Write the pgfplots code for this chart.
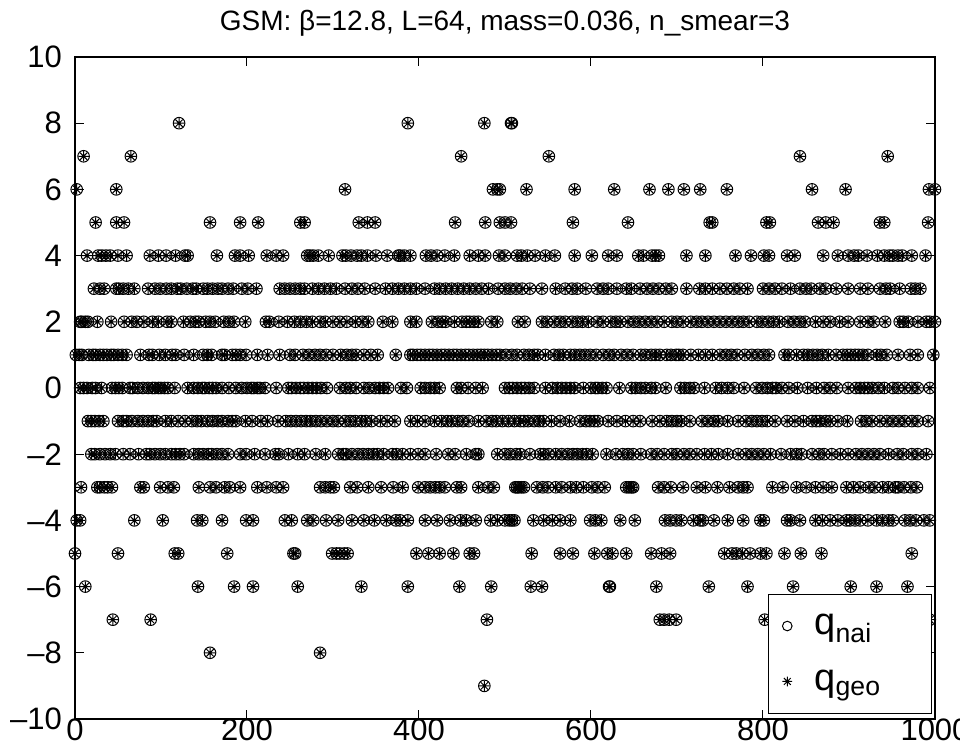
\documentclass[border=0pt]{standalone}
\usepackage{pgfplots}
\pgfplotsset{compat=1.18}
\usepackage{pgfplotstable}
\usepackage{fontspec}
\setmainfont{Liberation Sans}
\pgfdeclareplotmark{ast8}{%
 \pgfpathmoveto{\pgfqpoint{-\pgfplotmarksize}{0pt}}\pgfpathlineto{\pgfqpoint{\pgfplotmarksize}{0pt}}%
 \pgfpathmoveto{\pgfqpoint{0pt}{-\pgfplotmarksize}}\pgfpathlineto{\pgfqpoint{0pt}{\pgfplotmarksize}}%
 \pgfpathmoveto{\pgfqpoint{-0.707\pgfplotmarksize}{-0.707\pgfplotmarksize}}\pgfpathlineto{\pgfqpoint{0.707\pgfplotmarksize}{0.707\pgfplotmarksize}}%
 \pgfpathmoveto{\pgfqpoint{-0.707\pgfplotmarksize}{0.707\pgfplotmarksize}}\pgfpathlineto{\pgfqpoint{0.707\pgfplotmarksize}{-0.707\pgfplotmarksize}}%
 \pgfusepathqstroke}
\pgfplotstableread[row sep=\\]{
x y\\
121 8\\ 387 8\\ 476 8\\ 507 8\\ 508 8\\
10 7\\ 65 7\\ 449 7\\ 551 7\\ 843 7\\ 945 7\\
2 6\\ 48 6\\ 314 6\\ 486 6\\ 491 6\\ 494 6\\ 525 6\\ 581 6\\ 627 6\\ 668 6\\ 690 6\\ 708 6\\ 727 6\\ 758 6\\ 857 6\\ 896 6\\ 993 6\\ 1000 6\\
24 5\\ 48 5\\ 57 5\\ 157 5\\ 192 5\\ 213 5\\ 262 5\\ 267 5\\ 330 5\\ 340 5\\ 349 5\\ 442 5\\ 477 5\\ 494 5\\ 500 5\\ 507 5\\ 579 5\\ 643 5\\ 738 5\\ 741 5\\ 804 5\\ 808 5\\ 864 5\\ 873 5\\ 882 5\\ 936 5\\ 941 5\\ 992 5\\
14 4\\ 27 4\\ 31 4\\ 36 4\\ 41 4\\ 50 4\\ 60 4\\ 87 4\\ 97 4\\ 106 4\\ 117 4\\ 128 4\\ 131 4\\ 165 4\\ 186 4\\ 192 4\\ 202 4\\ 223 4\\ 234 4\\ 242 4\\ 270 4\\ 273 4\\ 277 4\\ 283 4\\ 295 4\\ 311 4\\ 315 4\\ 321 4\\ 328 4\\ 333 4\\ 340 4\\ 350 4\\ 363 4\\ 376 4\\ 378 4\\ 383 4\\ 390 4\\ 408 4\\ 414 4\\ 421 4\\ 430 4\\ 441 4\\ 459 4\\ 469 4\\ 477 4\\ 493 4\\ 500 4\\ 514 4\\ 519 4\\ 526 4\\ 535 4\\ 547 4\\ 558 4\\ 581 4\\ 601 4\\ 620 4\\ 630 4\\ 655 4\\ 661 4\\ 671 4\\ 675 4\\ 679 4\\ 711 4\\ 733 4\\ 768 4\\ 786 4\\ 801 4\\ 807 4\\ 828 4\\ 837 4\\ 870 4\\ 887 4\\ 899 4\\ 906 4\\ 911 4\\ 921 4\\ 933 4\\ 941 4\\ 947 4\\ 951 4\\ 957 4\\ 962 4\\ 973 4\\ 989 4\\
22 3\\ 29 3\\ 34 3\\ 48 3\\ 51 3\\ 56 3\\ 62 3\\ 69 3\\ 85 3\\ 93 3\\ 99 3\\ 106 3\\ 112 3\\ 119 3\\ 123 3\\ 130 3\\ 137 3\\ 141 3\\ 149 3\\ 154 3\\ 160 3\\ 166 3\\ 171 3\\ 178 3\\ 184 3\\ 194 3\\ 201 3\\ 211 3\\ 238 3\\ 244 3\\ 250 3\\ 256 3\\ 262 3\\ 267 3\\ 276 3\\ 283 3\\ 290 3\\ 297 3\\ 304 3\\ 314 3\\ 322 3\\ 329 3\\ 337 3\\ 349 3\\ 361 3\\ 369 3\\ 376 3\\ 383 3\\ 390 3\\ 397 3\\ 407 3\\ 418 3\\ 424 3\\ 431 3\\ 438 3\\ 445 3\\ 452 3\\ 459 3\\ 466 3\\ 473 3\\ 481 3\\ 492 3\\ 500 3\\ 506 3\\ 513 3\\ 520 3\\ 529 3\\ 543 3\\ 559 3\\ 570 3\\ 578 3\\ 584 3\\ 594 3\\ 607 3\\ 614 3\\ 620 3\\ 630 3\\ 641 3\\ 647 3\\ 657 3\\ 665 3\\ 672 3\\ 679 3\\ 687 3\\ 694 3\\ 711 3\\ 726 3\\ 733 3\\ 741 3\\ 750 3\\ 758 3\\ 766 3\\ 773 3\\ 782 3\\ 800 3\\ 807 3\\ 814 3\\ 822 3\\ 832 3\\ 843 3\\ 850 3\\ 856 3\\ 866 3\\ 873 3\\ 885 3\\ 899 3\\ 913 3\\ 922 3\\ 936 3\\ 943 3\\ 948 3\\ 959 3\\ 972 3\\ 977 3\\ 983 3\\
6 2\\ 8 2\\ 12 2\\ 15 2\\ 26 2\\ 42 2\\ 57 2\\ 66 2\\ 72 2\\ 80 2\\ 90 2\\ 97 2\\ 107 2\\ 112 2\\ 126 2\\ 134 2\\ 140 2\\ 144 2\\ 152 2\\ 157 2\\ 163 2\\ 173 2\\ 179 2\\ 185 2\\ 198 2\\ 222 2\\ 226 2\\ 237 2\\ 247 2\\ 255 2\\ 262 2\\ 269 2\\ 276 2\\ 285 2\\ 291 2\\ 300 2\\ 308 2\\ 316 2\\ 326 2\\ 334 2\\ 341 2\\ 358 2\\ 369 2\\ 390 2\\ 397 2\\ 415 2\\ 422 2\\ 427 2\\ 431 2\\ 441 2\\ 450 2\\ 455 2\\ 459 2\\ 464 2\\ 469 2\\ 484 2\\ 491 2\\ 515 2\\ 523 2\\ 543 2\\ 549 2\\ 557 2\\ 564 2\\ 570 2\\ 578 2\\ 584 2\\ 590 2\\ 597 2\\ 607 2\\ 614 2\\ 623 2\\ 629 2\\ 634 2\\ 643 2\\ 650 2\\ 656 2\\ 663 2\\ 670 2\\ 677 2\\ 685 2\\ 694 2\\ 700 2\\ 707 2\\ 716 2\\ 723 2\\ 729 2\\ 736 2\\ 743 2\\ 750 2\\ 757 2\\ 764 2\\ 771 2\\ 777 2\\ 784 2\\ 793 2\\ 799 2\\ 806 2\\ 812 2\\ 819 2\\ 829 2\\ 836 2\\ 843 2\\ 849 2\\ 861 2\\ 870 2\\ 878 2\\ 889 2\\ 899 2\\ 913 2\\ 922 2\\ 929 2\\ 942 2\\ 959 2\\ 963 2\\ 969 2\\ 980 2\\ 990 2\\ 994 2\\ 1000 2\\
1 1\\ 5 1\\ 8 1\\ 16 1\\ 21 1\\ 24 1\\ 29 1\\ 33 1\\ 37 1\\ 42 1\\ 45 1\\ 50 1\\ 55 1\\ 60 1\\ 76 1\\ 86 1\\ 90 1\\ 98 1\\ 105 1\\ 113 1\\ 117 1\\ 127 1\\ 138 1\\ 149 1\\ 154 1\\ 159 1\\ 171 1\\ 174 1\\ 183 1\\ 187 1\\ 192 1\\ 199 1\\ 212 1\\ 224 1\\ 238 1\\ 250 1\\ 256 1\\ 265 1\\ 272 1\\ 279 1\\ 285 1\\ 292 1\\ 300 1\\ 309 1\\ 316 1\\ 322 1\\ 327 1\\ 336 1\\ 344 1\\ 352 1\\ 373 1\\ 390 1\\ 393 1\\ 398 1\\ 402 1\\ 407 1\\ 412 1\\ 416 1\\ 421 1\\ 426 1\\ 430 1\\ 435 1\\ 440 1\\ 444 1\\ 449 1\\ 454 1\\ 458 1\\ 463 1\\ 468 1\\ 472 1\\ 476 1\\ 480 1\\ 485 1\\ 490 1\\ 494 1\\ 501 1\\ 508 1\\ 514 1\\ 522 1\\ 528 1\\ 534 1\\ 538 1\\ 547 1\\ 557 1\\ 563 1\\ 568 1\\ 576 1\\ 581 1\\ 587 1\\ 593 1\\ 599 1\\ 606 1\\ 614 1\\ 621 1\\ 627 1\\ 635 1\\ 642 1\\ 649 1\\ 658 1\\ 663 1\\ 670 1\\ 675 1\\ 680 1\\ 688 1\\ 693 1\\ 699 1\\ 702 1\\ 707 1\\ 716 1\\ 725 1\\ 733 1\\ 741 1\\ 750 1\\ 757 1\\ 763 1\\ 770 1\\ 779 1\\ 787 1\\ 794 1\\ 801 1\\ 807 1\\ 825 1\\ 830 1\\ 839 1\\ 847 1\\ 852 1\\ 858 1\\ 863 1\\ 869 1\\ 876 1\\ 885 1\\ 893 1\\ 898 1\\ 902 1\\ 907 1\\ 911 1\\ 916 1\\ 922 1\\ 932 1\\ 937 1\\ 944 1\\ 957 1\\ 971 1\\ 980 1\\ 998 1\\
6 0\\ 10 0\\ 14 0\\ 20 0\\ 24 0\\ 31 0\\ 43 0\\ 47 0\\ 51 0\\ 55 0\\ 64 0\\ 67 0\\ 73 0\\ 79 0\\ 85 0\\ 90 0\\ 93 0\\ 97 0\\ 100 0\\ 104 0\\ 108 0\\ 116 0\\ 131 0\\ 138 0\\ 143 0\\ 148 0\\ 151 0\\ 156 0\\ 160 0\\ 164 0\\ 171 0\\ 179 0\\ 187 0\\ 194 0\\ 200 0\\ 205 0\\ 208 0\\ 212 0\\ 215 0\\ 221 0\\ 234 0\\ 248 0\\ 252 0\\ 257 0\\ 262 0\\ 266 0\\ 271 0\\ 276 0\\ 281 0\\ 286 0\\ 293 0\\ 308 0\\ 315 0\\ 320 0\\ 327 0\\ 336 0\\ 342 0\\ 349 0\\ 354 0\\ 359 0\\ 364 0\\ 379 0\\ 386 0\\ 402 0\\ 407 0\\ 413 0\\ 418 0\\ 424 0\\ 444 0\\ 449 0\\ 457 0\\ 466 0\\ 474 0\\ 500 0\\ 505 0\\ 509 0\\ 514 0\\ 519 0\\ 523 0\\ 528 0\\ 534 0\\ 547 0\\ 555 0\\ 561 0\\ 566 0\\ 571 0\\ 576 0\\ 581 0\\ 591 0\\ 600 0\\ 605 0\\ 608 0\\ 613 0\\ 618 0\\ 633 0\\ 647 0\\ 652 0\\ 658 0\\ 663 0\\ 670 0\\ 675 0\\ 687 0\\ 704 0\\ 709 0\\ 715 0\\ 720 0\\ 732 0\\ 745 0\\ 752 0\\ 759 0\\ 766 0\\ 778 0\\ 792 0\\ 799 0\\ 805 0\\ 811 0\\ 815 0\\ 822 0\\ 830 0\\ 840 0\\ 852 0\\ 862 0\\ 871 0\\ 878 0\\ 886 0\\ 899 0\\ 908 0\\ 913 0\\ 918 0\\ 922 0\\ 927 0\\ 934 0\\ 941 0\\ 951 0\\ 957 0\\ 965 0\\ 973 0\\ 980 0\\ 994 0\\
15 -1\\ 19 -1\\ 23 -1\\ 28 -1\\ 33 -1\\ 50 -1\\ 56 -1\\ 60 -1\\ 66 -1\\ 73 -1\\ 79 -1\\ 85 -1\\ 91 -1\\ 95 -1\\ 105 -1\\ 112 -1\\ 120 -1\\ 128 -1\\ 136 -1\\ 142 -1\\ 147 -1\\ 154 -1\\ 160 -1\\ 166 -1\\ 171 -1\\ 178 -1\\ 183 -1\\ 187 -1\\ 198 -1\\ 206 -1\\ 216 -1\\ 224 -1\\ 236 -1\\ 245 -1\\ 251 -1\\ 257 -1\\ 263 -1\\ 269 -1\\ 274 -1\\ 280 -1\\ 286 -1\\ 293 -1\\ 300 -1\\ 306 -1\\ 314 -1\\ 320 -1\\ 326 -1\\ 333 -1\\ 338 -1\\ 345 -1\\ 355 -1\\ 363 -1\\ 372 -1\\ 390 -1\\ 398 -1\\ 407 -1\\ 418 -1\\ 426 -1\\ 433 -1\\ 438 -1\\ 445 -1\\ 451 -1\\ 458 -1\\ 469 -1\\ 478 -1\\ 485 -1\\ 490 -1\\ 497 -1\\ 504 -1\\ 511 -1\\ 518 -1\\ 522 -1\\ 527 -1\\ 534 -1\\ 540 -1\\ 545 -1\\ 554 -1\\ 564 -1\\ 575 -1\\ 587 -1\\ 594 -1\\ 599 -1\\ 604 -1\\ 608 -1\\ 620 -1\\ 630 -1\\ 640 -1\\ 649 -1\\ 657 -1\\ 671 -1\\ 680 -1\\ 688 -1\\ 694 -1\\ 700 -1\\ 705 -1\\ 715 -1\\ 729 -1\\ 736 -1\\ 743 -1\\ 748 -1\\ 759 -1\\ 771 -1\\ 780 -1\\ 787 -1\\ 793 -1\\ 799 -1\\ 805 -1\\ 814 -1\\ 828 -1\\ 837 -1\\ 847 -1\\ 857 -1\\ 862 -1\\ 866 -1\\ 873 -1\\ 878 -1\\ 887 -1\\ 898 -1\\ 914 -1\\ 920 -1\\ 927 -1\\ 936 -1\\ 944 -1\\ 951 -1\\ 958 -1\\ 965 -1\\ 973 -1\\ 980 -1\\ 992 -1\\
19 -2\\ 23 -2\\ 29 -2\\ 35 -2\\ 41 -2\\ 47 -2\\ 56 -2\\ 64 -2\\ 74 -2\\ 83 -2\\ 87 -2\\ 93 -2\\ 99 -2\\ 105 -2\\ 112 -2\\ 117 -2\\ 122 -2\\ 127 -2\\ 138 -2\\ 144 -2\\ 149 -2\\ 155 -2\\ 159 -2\\ 165 -2\\ 171 -2\\ 178 -2\\ 192 -2\\ 199 -2\\ 209 -2\\ 221 -2\\ 233 -2\\ 237 -2\\ 248 -2\\ 259 -2\\ 267 -2\\ 280 -2\\ 291 -2\\ 306 -2\\ 312 -2\\ 315 -2\\ 322 -2\\ 329 -2\\ 335 -2\\ 341 -2\\ 347 -2\\ 352 -2\\ 359 -2\\ 369 -2\\ 374 -2\\ 381 -2\\ 390 -2\\ 399 -2\\ 407 -2\\ 420 -2\\ 434 -2\\ 442 -2\\ 455 -2\\ 466 -2\\ 469 -2\\ 491 -2\\ 500 -2\\ 506 -2\\ 513 -2\\ 518 -2\\ 529 -2\\ 541 -2\\ 545 -2\\ 551 -2\\ 559 -2\\ 566 -2\\ 573 -2\\ 579 -2\\ 584 -2\\ 590 -2\\ 595 -2\\ 602 -2\\ 618 -2\\ 629 -2\\ 637 -2\\ 643 -2\\ 649 -2\\ 658 -2\\ 670 -2\\ 677 -2\\ 685 -2\\ 694 -2\\ 700 -2\\ 708 -2\\ 715 -2\\ 723 -2\\ 732 -2\\ 740 -2\\ 748 -2\\ 759 -2\\ 771 -2\\ 780 -2\\ 787 -2\\ 794 -2\\ 801 -2\\ 809 -2\\ 821 -2\\ 832 -2\\ 839 -2\\ 845 -2\\ 857 -2\\ 865 -2\\ 871 -2\\ 880 -2\\ 890 -2\\ 899 -2\\ 908 -2\\ 915 -2\\ 922 -2\\ 929 -2\\ 936 -2\\ 946 -2\\ 956 -2\\ 963 -2\\ 973 -2\\ 980 -2\\ 990 -2\\
7 -3\\ 26 -3\\ 29 -3\\ 34 -3\\ 38 -3\\ 43 -3\\ 76 -3\\ 80 -3\\ 99 -3\\ 108 -3\\ 115 -3\\ 144 -3\\ 157 -3\\ 164 -3\\ 174 -3\\ 180 -3\\ 192 -3\\ 212 -3\\ 223 -3\\ 234 -3\\ 242 -3\\ 285 -3\\ 291 -3\\ 297 -3\\ 301 -3\\ 320 -3\\ 328 -3\\ 341 -3\\ 356 -3\\ 370 -3\\ 381 -3\\ 399 -3\\ 407 -3\\ 413 -3\\ 419 -3\\ 424 -3\\ 430 -3\\ 444 -3\\ 449 -3\\ 469 -3\\ 480 -3\\ 487 -3\\ 512 -3\\ 514 -3\\ 516 -3\\ 519 -3\\ 522 -3\\ 537 -3\\ 544 -3\\ 550 -3\\ 559 -3\\ 566 -3\\ 576 -3\\ 583 -3\\ 591 -3\\ 601 -3\\ 608 -3\\ 616 -3\\ 641 -3\\ 644 -3\\ 647 -3\\ 649 -3\\ 678 -3\\ 685 -3\\ 693 -3\\ 707 -3\\ 723 -3\\ 733 -3\\ 747 -3\\ 761 -3\\ 771 -3\\ 777 -3\\ 782 -3\\ 811 -3\\ 823 -3\\ 839 -3\\ 850 -3\\ 861 -3\\ 870 -3\\ 880 -3\\ 897 -3\\ 905 -3\\ 913 -3\\ 923 -3\\ 930 -3\\ 939 -3\\ 946 -3\\ 954 -3\\ 957 -3\\ 964 -3\\ 972 -3\\ 979 -3\\
2 -4\\ 6 -4\\ 69 -4\\ 102 -4\\ 142 -4\\ 148 -4\\ 171 -4\\ 199 -4\\ 207 -4\\ 244 -4\\ 252 -4\\ 270 -4\\ 277 -4\\ 292 -4\\ 306 -4\\ 322 -4\\ 336 -4\\ 348 -4\\ 362 -4\\ 373 -4\\ 378 -4\\ 387 -4\\ 407 -4\\ 421 -4\\ 436 -4\\ 448 -4\\ 455 -4\\ 466 -4\\ 483 -4\\ 491 -4\\ 500 -4\\ 505 -4\\ 508 -4\\ 511 -4\\ 533 -4\\ 545 -4\\ 555 -4\\ 564 -4\\ 576 -4\\ 599 -4\\ 605 -4\\ 612 -4\\ 634 -4\\ 651 -4\\ 686 -4\\ 692 -4\\ 699 -4\\ 705 -4\\ 719 -4\\ 727 -4\\ 730 -4\\ 743 -4\\ 759 -4\\ 777 -4\\ 797 -4\\ 801 -4\\ 828 -4\\ 832 -4\\ 843 -4\\ 861 -4\\ 869 -4\\ 878 -4\\ 887 -4\\ 897 -4\\ 901 -4\\ 907 -4\\ 913 -4\\ 922 -4\\ 932 -4\\ 939 -4\\ 946 -4\\ 951 -4\\ 965 -4\\ 971 -4\\ 978 -4\\ 987 -4\\ 994 -4\\
0 -5\\ 50 -5\\ 116 -5\\ 120 -5\\ 177 -5\\ 254 -5\\ 256 -5\\ 299 -5\\ 304 -5\\ 308 -5\\ 313 -5\\ 317 -5\\ 397 -5\\ 411 -5\\ 424 -5\\ 440 -5\\ 459 -5\\ 464 -5\\ 531 -5\\ 564 -5\\ 579 -5\\ 604 -5\\ 619 -5\\ 625 -5\\ 641 -5\\ 670 -5\\ 682 -5\\ 692 -5\\ 755 -5\\ 764 -5\\ 769 -5\\ 776 -5\\ 785 -5\\ 797 -5\\ 804 -5\\ 825 -5\\ 844 -5\\ 868 -5\\ 973 -5\\
12 -6\\ 143 -6\\ 185 -6\\ 207 -6\\ 259 -6\\ 333 -6\\ 387 -6\\ 447 -6\\ 484 -6\\ 530 -6\\ 543 -6\\ 621 -6\\ 622 -6\\ 676 -6\\ 737 -6\\ 782 -6\\ 835 -6\\ 902 -6\\ 932 -6\\ 968 -6\\
44 -7\\ 88 -7\\ 479 -7\\ 680 -7\\ 685 -7\\ 691 -7\\ 699 -7\\ 802 -7\\ 994 -7\\
157 -8\\ 285 -8\\
476 -9\\
}\qdata
\begin{document}
\begin{tikzpicture}
\begin{axis}[
  scale only axis,
  width=430pt, height=331pt,
  xmin=0, xmax=1000, ymin=-10, ymax=10,
  xtick={0,200,400,600,800,1000},
  xticklabels={0,200,400,600,800,1000},
  ytick={-10,-8,-6,-4,-2,0,2,4,6,8,10},
  yticklabels={–10,–8,–6,–4,–2,0,2,4,6,8,10},
  tick align=inside,
  major tick length=4.5pt,
  tick style={black, line width=0.5pt},
  axis line style={line width=0.6pt},
  tick label style={font=\fontsize{15.5}{18}\selectfont},
  xticklabel style={yshift=3.5pt},
  yticklabel style={xshift=-3pt},
  /pgf/number format/assume math mode=true,
  title={GSM: β=12.8, L=64, mass=0.036, n\_smear=3},
  title style={font=\fontsize{14}{17}\selectfont, yshift=1pt},
  clip=false,
  legend style={at={(0.996,0.008)}, anchor=south east, draw=black,
    line width=0.5pt, fill=white, font=\fontsize{19}{22}\selectfont,
    row sep=12pt, inner ysep=8pt, inner xsep=3pt},
  legend image code/.code={\path (0cm,0cm) (0.62cm,0cm); \draw[mark size=2.4pt] plot coordinates {(0.22cm,0cm)};},
  legend cell align=left,
]
\addplot[only marks, mark=o, mark size=2.9pt, black, line width=0.5pt] table {\qdata};
\addlegendentry{q\textsubscript{nai}\rule{20pt}{0pt}}
\addplot[only marks, mark=ast8, mark size=2.6pt, black, line width=0.5pt] table {\qdata};
\addlegendentry{q\textsubscript{geo}\rule{20pt}{0pt}}
\coordinate (sw) at (rel axis cs:0,0);
\coordinate (ne) at (rel axis cs:1,1);
\end{axis}
\pgfresetboundingbox
\path[use as bounding box] ([shift={(-37.5pt,-14.5pt)}]sw) rectangle ([shift={(12.5pt,28.5pt)}]ne);
\end{tikzpicture}
\end{document}
